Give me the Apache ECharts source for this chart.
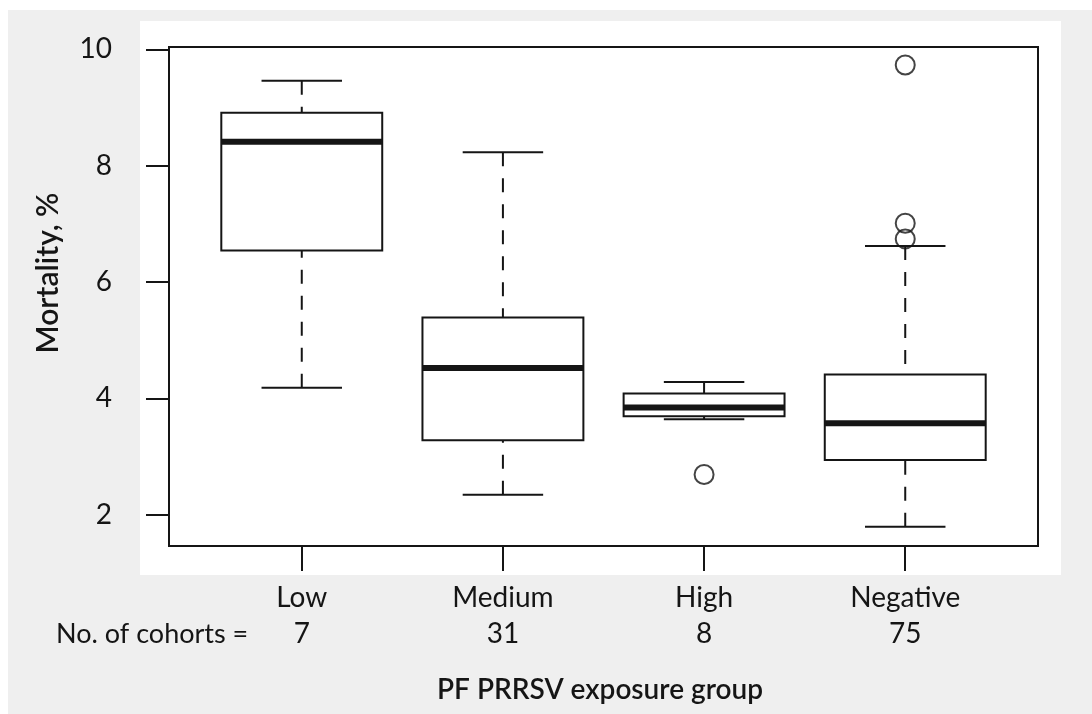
<!DOCTYPE html>
<html>
<head>
<meta charset="utf-8">
<script src="https://cdn.jsdelivr.net/npm/echarts@6/dist/echarts.min.js"></script>
<style>
  html, body { margin: 0; padding: 0; background: #ffffff; }
  #chart { width: 1092px; height: 714px; }
</style>
</head>
<body>
<div id="chart"></div>
<script>
// Exposure groups and cohort counts
const groups = ['Low', 'Medium', 'High', 'Negative'];
const cohorts = [7, 31, 8, 75];

// Five-number summaries per group: [lower whisker, Q1, median, Q3, upper whisker]
const lowerWhisker = [4.18, 2.34, 3.64, 1.79];
const q1 = [6.54, 3.28, 3.69, 2.94];
const median = [8.41, 4.52, 3.84, 3.57];
const q3 = [8.91, 5.39, 4.08, 4.41];
const upperWhisker = [9.46, 8.23, 4.28, 6.62];

// Outlying cohorts: [group position, mortality %]
const outliers = [[3, 2.69], [4, 6.74], [4, 7.01], [4, 9.73]];

const yTicks = [2, 4, 6, 8, 10];

const boxData = groups.map((g, i) => [i + 1, lowerWhisker[i], q1[i], median[i], q3[i], upperWhisker[i]]);

const INK = '#151515';
const FONT = 'Lato, "Open Sans", sans-serif';

function renderBox(params, api) {
  const x = api.value(0);
  const pMin = api.coord([x, api.value(1)]);
  const pQ1 = api.coord([x, api.value(2)]);
  const pMed = api.coord([x, api.value(3)]);
  const pQ3 = api.coord([x, api.value(4)]);
  const pMax = api.coord([x, api.value(5)]);
  const boxW = api.size([0.8, 0])[0];
  const capW = boxW / 2;
  const cx = pMed[0];
  const line = (x1, y1, x2, y2, w, dash) => ({
    type: 'line',
    shape: { x1, y1, x2, y2 },
    style: { stroke: INK, lineWidth: w, lineDash: dash || null, lineCap: 'butt' }
  });
  return {
    type: 'group',
    children: [
      line(cx, pMax[1], cx, pQ3[1], 2, [14, 12]),
      line(cx, pMin[1], cx, pQ1[1], 2, [14, 12]),
      line(cx - capW / 2, pMax[1], cx + capW / 2, pMax[1], 2),
      line(cx - capW / 2, pMin[1], cx + capW / 2, pMin[1], 2),
      {
        type: 'rect',
        shape: { x: cx - boxW / 2, y: pQ3[1], width: boxW, height: pQ1[1] - pQ3[1] },
        style: { fill: '#ffffff', stroke: INK, lineWidth: 2 }
      },
      line(cx - boxW / 2, pMed[1], cx + boxW / 2, pMed[1], 6)
    ]
  };
}

const chart = echarts.init(document.getElementById('chart'), null, { renderer: 'canvas' });

chart.setOption({
  backgroundColor: '#ffffff',
  animation: false,
  textStyle: { fontFamily: FONT },
  graphic: {
    elements: [
      { type: 'rect', z: -20, silent: true, shape: { x: 8, y: 10, width: 1084, height: 704 }, style: { fill: '#efefef' } },
      { type: 'rect', z: -19, silent: true, shape: { x: 140, y: 21, width: 921, height: 554 }, style: { fill: '#ffffff' } },
      {
        type: 'text', x: 48, y: 273, rotation: Math.PI / 2,
        style: { text: 'Mortality, %', fill: INK, font: '600 30px ' + FONT, textAlign: 'center', textVerticalAlign: 'middle' }
      },
      {
        type: 'text', x: 56, y: 634,
        style: { text: 'No. of cohorts =', fill: INK, font: '27px ' + FONT, textAlign: 'left', textVerticalAlign: 'middle' }
      },
      {
        type: 'text', x: 600, y: 690,
        style: { text: 'PF PRRSV exposure group', fill: INK, font: '600 28px ' + FONT, textAlign: 'center', textVerticalAlign: 'middle' }
      }
    ]
  },
  grid: {
    left: 169, right: 54, top: 47, bottom: 168,
    show: true, backgroundColor: '#ffffff', borderColor: INK, borderWidth: 2
  },
  xAxis: {
    type: 'value', min: 0.34, max: 4.66,
    splitLine: { show: false },
    axisLine: { show: false },
    axisTick: { show: true, length: 25, inside: false, customValues: [1, 2, 3, 4], lineStyle: { color: INK, width: 2 } },
    axisLabel: {
      show: true, customValues: [1, 2, 3, 4], margin: 34,
      formatter: v => '{g|' + groups[v - 1] + '}\n{n|' + cohorts[v - 1] + '}',
      rich: {
        g: { fontSize: 28, lineHeight: 36, color: INK, fontFamily: FONT },
        n: { fontSize: 28, lineHeight: 36, color: INK, fontFamily: FONT }
      }
    }
  },
  yAxis: {
    type: 'value', min: 1.46, max: 10.04,
    splitLine: { show: false },
    axisLine: { show: false },
    axisTick: { show: true, length: 23, inside: false, customValues: yTicks, lineStyle: { color: INK, width: 2 } },
    axisLabel: { show: true, customValues: yTicks, margin: 57, fontSize: 28, color: INK, fontFamily: FONT }
  },
  series: [
    {
      type: 'custom',
      renderItem: renderBox,
      encode: { x: 0, y: [1, 2, 3, 4, 5] },
      data: boxData,
      z: 3
    },
    {
      type: 'scatter',
      data: outliers,
      symbol: 'circle',
      symbolSize: 19,
      itemStyle: { color: 'rgba(0,0,0,0)', borderColor: INK, borderWidth: 2 },
      z: 4
    }
  ]
});
</script>
</body>
</html>
